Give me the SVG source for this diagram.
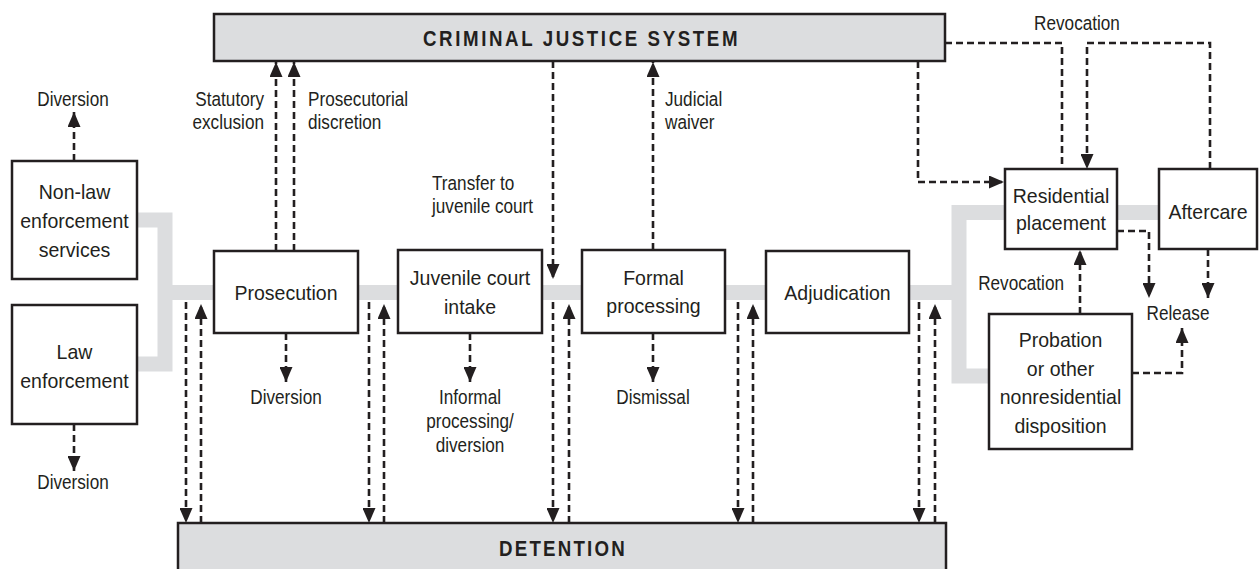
<svg xmlns="http://www.w3.org/2000/svg" width="1259" height="569" viewBox="0 0 1259 569">
<style>
.bg{fill:#ffffff}
.gray{fill:none;stroke:#dcdddf;stroke-width:15;stroke-linejoin:miter;stroke-linecap:butt}
.box{fill:#ffffff;stroke:#231f20;stroke-width:2.5}
.sys{fill:#dcdddf;stroke:#231f20;stroke-width:2.5}
.dash{fill:none;stroke:#231f20;stroke-width:2.6;stroke-dasharray:7 4}
.arr{marker-end:url(#ah)}
text{font-family:"Liberation Sans",Arial,sans-serif;fill:#231f20}
.bt{font-size:21px;text-anchor:middle}
.lb{font-size:19.5px}
.c{text-anchor:middle}
.e{text-anchor:end}
.hd{font-size:22px;font-weight:bold}
</style>
<defs>
<marker id="ah" markerUnits="userSpaceOnUse" viewBox="0 0 15 13" markerWidth="15" markerHeight="13" refX="15" refY="6.5" orient="auto">
<path d="M0,0 L15,6.5 L0,13 Z" fill="#231f20"/>
</marker>
</defs>
<rect class="bg" x="0" y="0" width="1259" height="569"/>

<g id="flow-lines">
<path class="gray" d="M137,220 H165 V364 H137"/>
<path class="gray" d="M165,292.5 H959"/>
<path class="gray" d="M1005,212.5 H959 V376 H989"/>
<path class="gray" d="M1117,212.5 H1159"/>
</g>

<g id="cjs">
<rect class="sys" x="214" y="14" width="731" height="47"/>
<text class="hd" transform="translate(423,46) scale(0.85,1)" textLength="370" lengthAdjust="spacing">CRIMINAL JUSTICE SYSTEM</text>
</g>
<g id="detention">
<rect class="sys" x="178" y="523" width="768" height="52"/>
<text class="hd" transform="translate(499,556) scale(0.85,1)" textLength="148" lengthAdjust="spacing">DETENTION</text>
</g>
<g id="nonlaw">
<rect class="box" x="12" y="161" width="125" height="118"/>
<text class="bt" transform="translate(74.5,199) scale(0.93,1)">Non-law</text>
<text class="bt" transform="translate(74.5,228) scale(0.93,1)">enforcement</text>
<text class="bt" transform="translate(74.5,257) scale(0.93,1)">services</text>
</g>
<g id="law">
<rect class="box" x="12" y="305" width="125" height="119"/>
<text class="bt" transform="translate(74.5,359) scale(0.93,1)">Law</text>
<text class="bt" transform="translate(74.5,388) scale(0.93,1)">enforcement</text>
</g>
<g id="prosecution">
<rect class="box" x="214" y="251" width="144" height="82"/>
<text class="bt" transform="translate(286,300) scale(0.93,1)">Prosecution</text>
</g>
<g id="intake">
<rect class="box" x="398" y="250" width="144" height="83"/>
<text class="bt" transform="translate(470,285) scale(0.93,1)">Juvenile court</text>
<text class="bt" transform="translate(470,314) scale(0.93,1)">intake</text>
</g>
<g id="formal">
<rect class="box" x="582" y="250" width="143" height="83"/>
<text class="bt" transform="translate(653.5,285) scale(0.93,1)">Formal</text>
<text class="bt" transform="translate(653.5,313) scale(0.93,1)">processing</text>
</g>
<g id="adjudication">
<rect class="box" x="766" y="251" width="143" height="82"/>
<text class="bt" transform="translate(837.5,300) scale(0.93,1)">Adjudication</text>
</g>
<g id="residential">
<rect class="box" x="1005" y="169" width="112" height="80"/>
<text class="bt" transform="translate(1061,203) scale(0.93,1)">Residential</text>
<text class="bt" transform="translate(1061,230) scale(0.93,1)">placement</text>
</g>
<g id="aftercare">
<rect class="box" x="1159" y="169" width="98" height="80"/>
<text class="bt" transform="translate(1208,219) scale(0.93,1)">Aftercare</text>
</g>
<g id="probation">
<rect class="box" x="989" y="314" width="143" height="135"/>
<text class="bt" transform="translate(1060.5,347) scale(0.93,1)">Probation</text>
<text class="bt" transform="translate(1060.5,376) scale(0.93,1)">or other</text>
<text class="bt" transform="translate(1060.5,404) scale(0.93,1)">nonresidential</text>
<text class="bt" transform="translate(1060.5,433) scale(0.93,1)">disposition</text>
</g>

<g id="connectors">
<path class="dash arr" d="M74,161 V112"/>
<path class="dash arr" d="M74,424 V471"/>
<path class="dash arr" d="M276,251 V62"/>
<path class="dash arr" d="M294,251 V62"/>
<path class="dash arr" d="M553,61 V279"/>
<path class="dash arr" d="M653,250 V62"/>
<path class="dash arr" d="M286,333 V382"/>
<path class="dash arr" d="M470,333 V382"/>
<path class="dash arr" d="M653,333 V382"/>
<path class="dash arr" d="M186,302 V523"/>
<path class="dash arr" d="M201,523 V304"/>
<path class="dash arr" d="M369,302 V523"/>
<path class="dash arr" d="M384,523 V304"/>
<path class="dash arr" d="M553,302 V523"/>
<path class="dash arr" d="M569,523 V304"/>
<path class="dash arr" d="M738,302 V523"/>
<path class="dash arr" d="M753,523 V304"/>
<path class="dash arr" d="M919,302 V523"/>
<path class="dash arr" d="M935,523 V304"/>
<path class="dash arr" d="M918,61 V182 H1004"/>
<path class="dash" d="M945,43 H1062 V169"/>
<path class="dash arr" d="M1210,169 V43 H1087 V169"/>
<path class="dash arr" d="M1117,231 H1149 V298"/>
<path class="dash arr" d="M1208,249 V298"/>
<path class="dash arr" d="M1080,314 V250"/>
<path class="dash arr" d="M1132,373 H1182 V328"/>
</g>

<g id="labels">
<text class="lb c" transform="translate(73,106) scale(0.88,1)">Diversion</text>
<text class="lb c" transform="translate(73,489) scale(0.88,1)">Diversion</text>
<text class="lb e" transform="translate(264,106) scale(0.88,1)">Statutory</text>
<text class="lb e" transform="translate(264,129) scale(0.88,1)">exclusion</text>
<text class="lb" transform="translate(308,106) scale(0.88,1)">Prosecutorial</text>
<text class="lb" transform="translate(308,129) scale(0.88,1)">discretion</text>
<text class="lb" transform="translate(432,190) scale(0.88,1)">Transfer to</text>
<text class="lb" transform="translate(432,213) scale(0.88,1)">juvenile court</text>
<text class="lb" transform="translate(665,106) scale(0.88,1)">Judicial</text>
<text class="lb" transform="translate(665,129) scale(0.88,1)">waiver</text>
<text class="lb c" transform="translate(286,404) scale(0.88,1)">Diversion</text>
<text class="lb c" transform="translate(470,404) scale(0.88,1)">Informal</text>
<text class="lb c" transform="translate(470,428) scale(0.88,1)">processing/</text>
<text class="lb c" transform="translate(470,452) scale(0.88,1)">diversion</text>
<text class="lb c" transform="translate(653,404) scale(0.88,1)">Dismissal</text>
<text class="lb c" transform="translate(1077,30) scale(0.88,1)">Revocation</text>
<text class="lb e" transform="translate(1064,290) scale(0.88,1)">Revocation</text>
<text class="lb c" transform="translate(1178,320) scale(0.88,1)">Release</text>
</g>
</svg>
